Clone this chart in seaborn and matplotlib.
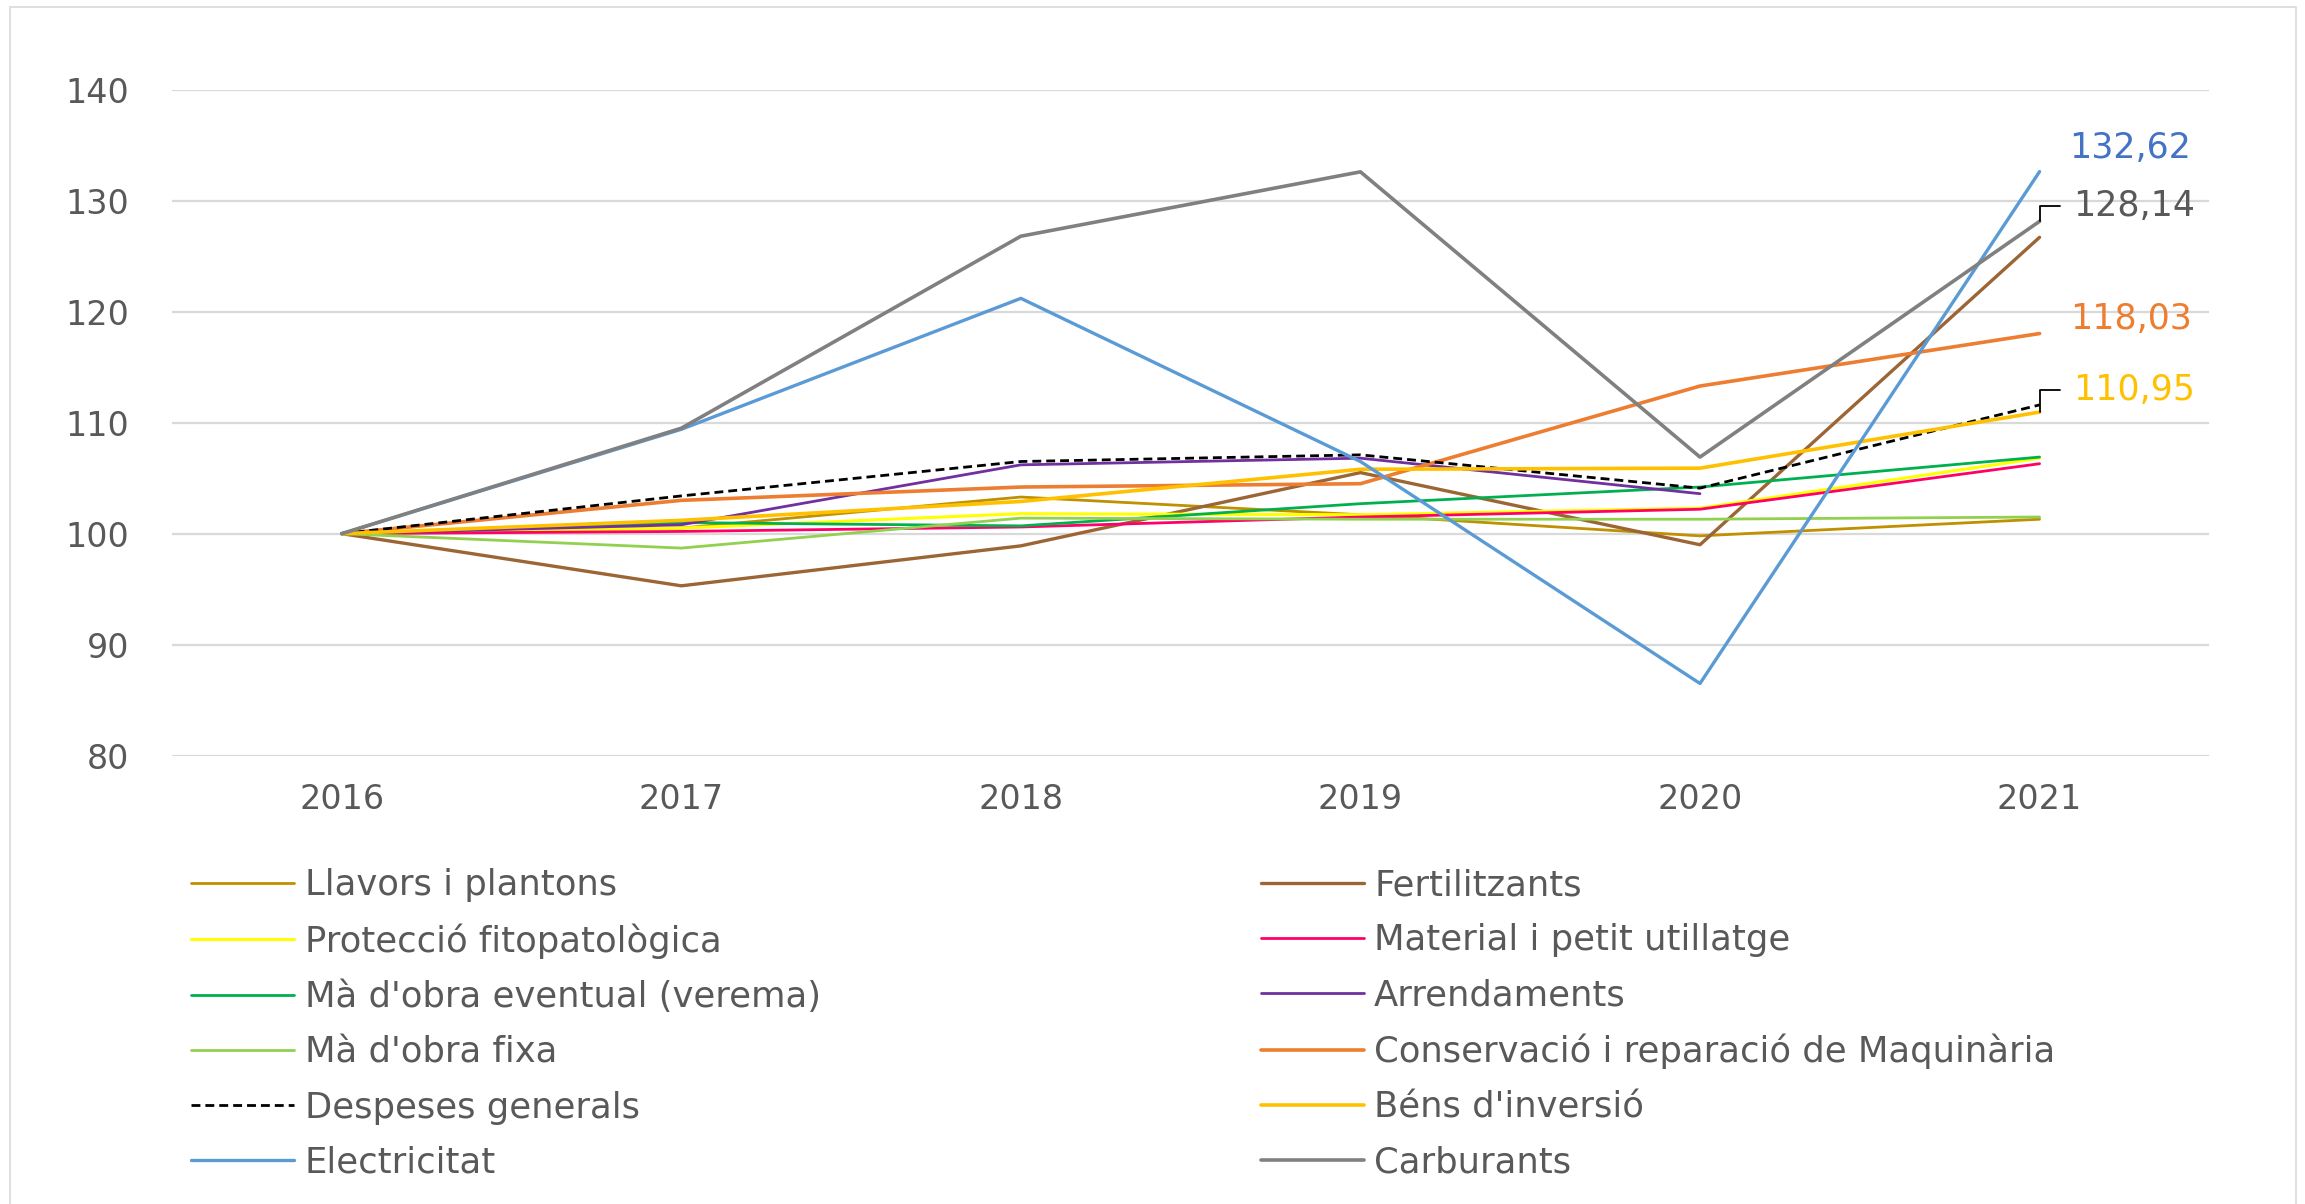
import matplotlib
matplotlib.use("Agg")
import matplotlib.pyplot as plt
from matplotlib.patches import Rectangle
import seaborn as sns
import pandas as pd
import numpy as np

# ── Dades (índex 2016 = 100) ────────────────────────────────────────────────
years = ["2016", "2017", "2018", "2019", "2020", "2021"]

llavors = [100, 100.5, 103.3, 101.7, 99.8, 101.3]
fertilitzants = [100, 95.3, 98.9, 105.5, 99.0, 126.7]
proteccio = [100, 100.5, 101.8, 101.7, 102.3, 106.8]
material = [100, 100.2, 100.6, 101.5, 102.2, 106.3]
ma_eventual = [100, 101.0, 100.7, 102.7, 104.2, 106.9]
arrendaments = [100, 100.8, 106.2, 106.8, 103.6, np.nan]
ma_fixa = [100, 98.7, 101.4, 101.3, 101.3, 101.5]
conservacio = [100, 103.0, 104.2, 104.5, 113.3, 118.03]
despeses = [100, 103.4, 106.5, 107.1, 104.1, 111.6]
bens = [100, 101.2, 102.9, 105.8, 105.9, 110.95]
electricitat = [100, 109.4, 121.2, 106.5, 86.5, 132.62]
carburants = [100, 109.5, 126.8, 132.6, 106.9, 128.14]

series = [
    ("Llavors i plantons", llavors, "#BF9000", 2.0, "-"),
    ("Fertilitzants", fertilitzants, "#9C6534", 2.4, "-"),
    ("Protecció fitopatològica", proteccio, "#FFFF00", 2.2, "-"),
    ("Material i petit utillatge", material, "#FF0066", 2.0, "-"),
    ("Mà d'obra eventual (verema)", ma_eventual, "#00B050", 2.0, "-"),
    ("Arrendaments", arrendaments, "#7030A0", 2.0, "-"),
    ("Mà d'obra fixa", ma_fixa, "#92D050", 2.0, "-"),
    ("Conservació i reparació de Maquinària", conservacio, "#ED7D31", 2.6, "-"),
    ("Despeses generals", despeses, "#000000", 2.0, "--"),
    ("Béns d'inversió", bens, "#FFC000", 2.6, "-"),
    ("Electricitat", electricitat, "#5B9BD5", 2.4, "-"),
    ("Carburants", carburants, "#808080", 2.6, "-"),
]

sns.set_theme(style="white")
plt.rcParams["font.family"] = ["DejaVu Sans"]

TXT = "#595959"

fig = plt.figure(figsize=(23.05, 12.04), dpi=100)
ax = fig.add_axes([0.0746, 0.3724, 0.8839, 0.5531])

xpos = np.arange(len(years))
for name, vals, color, lw, ls in series:
    df = pd.DataFrame({"x": xpos, "y": vals}).dropna()
    kw = dict(dashes=(3.2, 1.8)) if ls == "--" else {}
    sns.lineplot(data=df, x="x", y="y", ax=ax, color=color, linewidth=lw,
                 label=name, **kw)

handles, labels = ax.get_legend_handles_labels()
if ax.get_legend() is not None:
    ax.get_legend().remove()

ax.set_xlim(-0.5, len(years) - 0.5)
ax.set_ylim(80, 140)
ax.set_yticks(range(80, 141, 10))
ax.set_xticks(xpos)
ax.set_xticklabels(years)
ax.set_xlabel("")
ax.set_ylabel("")
ax.grid(axis="y", color="#D9D9D9", linewidth=1.6)
ax.grid(axis="x", visible=False)
ax.set_axisbelow(True)
for s in ax.spines.values():
    s.set_visible(False)
ax.tick_params(axis="both", length=0, labelsize=24, colors=TXT)
ax.tick_params(axis="y", pad=31)
ax.tick_params(axis="x", pad=20)

# Etiquetes de dades de 2021
lab_font = dict(fontsize=25)
leader = dict(arrowstyle="-", color="black", lw=1.3, shrinkA=7, shrinkB=0,
              connectionstyle="angle,angleA=0,angleB=90,rad=0", relpos=(0, 0.5))
last = len(years) - 1


def fmt(v):
    return f"{v:.2f}".replace(".", ",")


ax.annotate(fmt(electricitat[last]), (last, electricitat[last]), xytext=(65, 17),
            textcoords="offset points", ha="center", va="center", color="#4472C4",
            annotation_clip=False, **lab_font)
ax.annotate(fmt(carburants[last]), (last, carburants[last]), xytext=(24, 11),
            textcoords="offset points", ha="left", va="center", color=TXT,
            arrowprops=leader, annotation_clip=False, **lab_font)
ax.annotate(fmt(conservacio[last]), (last, conservacio[last]), xytext=(22, 10.5),
            textcoords="offset points", ha="left", va="center", color="#ED7D31",
            annotation_clip=False, **lab_font)
ax.annotate(fmt(bens[last]), (last, bens[last]), xytext=(24, 16),
            textcoords="offset points", ha="left", va="center", color="#FFC000",
            arrowprops=leader, annotation_clip=False, **lab_font)

# Llegenda en dues columnes (ordre per files, com a l'original)
leg_kw = dict(loc="upper left", frameon=False, borderpad=0, borderaxespad=0,
              handlelength=2.9, handletextpad=0.3, labelspacing=0.60,
              labelcolor=TXT, prop={"size": 25.5})
fig.legend(handles[0::2], labels[0::2], bbox_to_anchor=(0.083, 0.279), **leg_kw)
fig.legend(handles[1::2], labels[1::2], bbox_to_anchor=(0.547, 0.279), **leg_kw)

# Vora del gràfic
fig.patches.append(Rectangle((0.0045, -0.01), 0.9915, 1.004, transform=fig.transFigure,
                             fill=False, edgecolor="#D9D9D9", linewidth=1.2))

fig.savefig("out.png", dpi=100)
